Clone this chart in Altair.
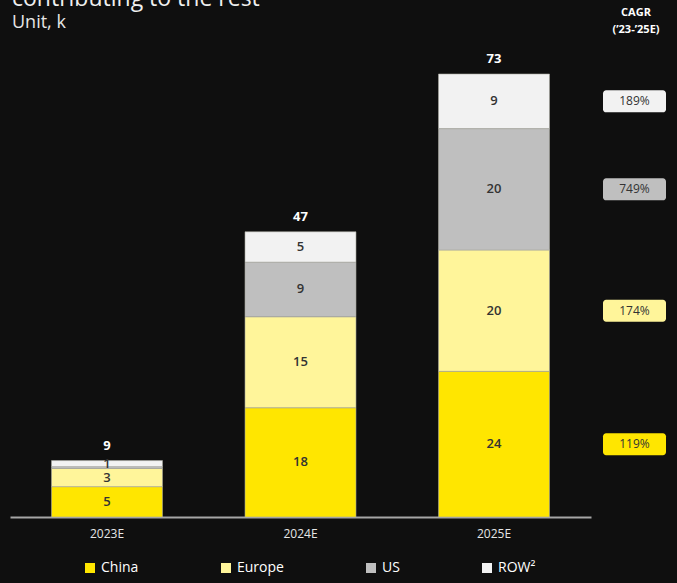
import altair as alt
import pandas as pd

# ---- data ----
years = ["2023E", "2024E", "2025E"]
series = ["China", "Europe", "US", "ROW²"]
china = [5, 18, 24]
europe = [3, 15, 20]
us = [0.3, 9, 20]
row = [1, 5, 9]
cagr = ["119%", "174%", "749%", "189%"]
colors = ["#FFE600", "#FFF59A", "#BFBFBF", "#F2F2F2"]
title_lines = ["contributing to the rest", "Unit, k"]
cagr_header = ["CAGR", "(’23-’25E)"]

records = []
for si, (name, vals) in enumerate(zip(series, [china, europe, us, row])):
    for yi, yr in enumerate(years):
        records.append({"year": yr, "series": name, "ord": si,
                        "value": vals[yi], "cagr": cagr[si]})
df = pd.DataFrame(records)

FONT = "Open Sans"

base = (
    alt.Chart(df)
    .transform_stack(stack="value", groupby=["year"], as_=["y0", "y1"],
                     sort=[alt.SortField("ord", order="ascending")])
    .transform_calculate(mid="(datum.y0 + datum.y1) / 2")
)

x_enc = alt.X(
    "year:N",
    scale=alt.Scale(domain=years, paddingInner=0.4264, paddingOuter=0.2145),
    axis=alt.Axis(title=None, labelColor="#e6e6e6", labelFontSize=12, labelFont=FONT,
                  ticks=False, domainColor="#a6a6a6", domainWidth=2,
                  labelPadding=11, labelAngle=0, grid=False),
)
y_scale = alt.Scale(domain=[0, 73], nice=False, zero=True)

color_enc = alt.Color(
    "series:N",
    scale=alt.Scale(domain=series, range=colors),
    legend=alt.Legend(
        title=None, orient="none", legendX=73, legendY=487, direction="horizontal",
        symbolType="square", symbolSize=100, symbolStrokeWidth=0,
        labelColor="#ffffff", labelFontSize=14, labelFont=FONT,
        columnPadding=80, padding=0, labelOffset=4,
    ),
)

bars = base.mark_bar(stroke="#a8a8a0", strokeWidth=0.6).encode(
    x=x_enc,
    y=alt.Y("y0:Q", scale=y_scale, axis=None),
    y2="y1:Q",
    color=color_enc,
)

seg_labels = base.transform_filter("datum.value >= 0.5").mark_text(
    font=FONT, fontSize=13, fontWeight=600, color="#333333", baseline="middle"
).encode(
    x=x_enc,
    y=alt.Y("mid:Q", scale=y_scale, axis=None),
    text=alt.Text("value:Q", format=".0f"),
)

totals = alt.Chart(df).mark_text(
    font=FONT, fontSize=13, fontWeight="bold", color="#ffffff", baseline="middle", dy=-15
).encode(
    x=x_enc,
    y=alt.Y("sum(value):Q", scale=y_scale, axis=None),
    text=alt.Text("sum(value):Q", format=".0f"),
)

box_path = ("M-0.9,-0.349 L0.9,-0.349 A0.1,0.1 0 0 1 1,-0.249 L1,0.249 "
            "A0.1,0.1 0 0 1 0.9,0.349 L-0.9,0.349 A0.1,0.1 0 0 1 -1,0.249 "
            "L-1,-0.249 A0.1,0.1 0 0 1 -0.9,-0.349 Z")

cagr_base = base.transform_filter("datum.year == '2025E'")
cagr_boxes = cagr_base.mark_point(
    shape=box_path, filled=True, size=63 * 63, opacity=1, strokeWidth=0
).encode(
    x=alt.value(624.5),
    y=alt.Y("mid:Q", scale=y_scale, axis=None),
    color=alt.Color("series:N", scale=alt.Scale(domain=series, range=colors), legend=None),
)
cagr_text = cagr_base.mark_text(
    font=FONT, fontSize=12, color="#333333", baseline="middle"
).encode(
    x=alt.value(624.5),
    y=alt.Y("mid:Q", scale=y_scale, axis=None),
    text="cagr:N",
)

hdr_df = pd.DataFrame({"t": cagr_header, "yy": [-61, -44]})
cagr_hdr = alt.Chart(hdr_df).mark_text(
    font=FONT, fontSize=11, fontWeight="bold", color="#ffffff", baseline="middle"
).encode(x=alt.value(626), y=alt.Y("yy:Q", scale=None), text="t:N")

title_df = pd.DataFrame({"t": title_lines[:1]})
title1 = alt.Chart(title_df).mark_text(
    font=FONT, fontSize=23, color="#f0f0f0", align="left", baseline="alphabetic"
).encode(x=alt.value(2), y=alt.value(-68), text="t:N")

sub_df = pd.DataFrame({"t": title_lines[1:]})
title2 = alt.Chart(sub_df).mark_text(
    font=FONT, fontSize=18, color="#e6e6e6", align="left", baseline="alphabetic"
).encode(x=alt.value(2), y=alt.value(-46), text="t:N")

chart = (
    alt.layer(bars, seg_labels, totals, cagr_boxes, cagr_text, cagr_hdr, title1, title2)
    .properties(
        width=581, height=443,
        background="#0f0f0f",
        padding={"left": 10, "top": 74, "right": 86, "bottom": 66},
        autosize=alt.AutoSizeParams(type="none"),
    )
    .configure_view(stroke=None)
)

chart.save("out.html", embed_options={"renderer": "svg", "actions": False})
